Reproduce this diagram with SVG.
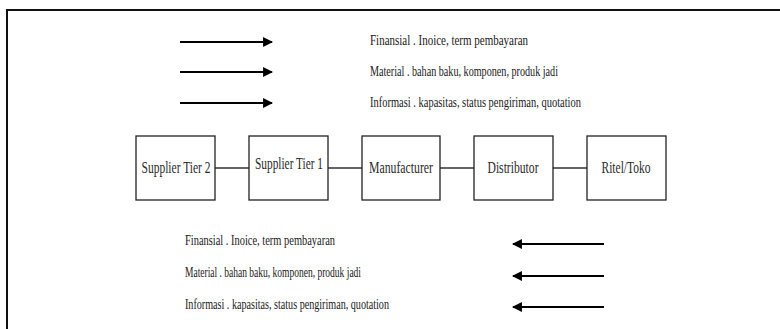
<svg xmlns="http://www.w3.org/2000/svg" width="780" height="329" viewBox="0 0 780 329">
  <style>
    .frame { fill: none; stroke: #111; stroke-width: 2; }
    .box { fill: #fff; stroke: #222; stroke-width: 1.3; }
    .link { stroke: #333; stroke-width: 1.3; fill: none; }
    .arrow { stroke: #000; stroke-width: 1.8; fill: none; }
    .lbl { font-family: "Liberation Serif", "Times New Roman", serif; font-size: 15px; fill: #1a1a1a; }
    .node { font-family: "Liberation Serif", "Times New Roman", serif; font-size: 16px; fill: #2a2a2a; text-anchor: middle; }
  </style>
  <defs>
    <marker id="ah" viewBox="0 0 10 10" refX="9" refY="5" markerWidth="5.5" markerHeight="6" orient="auto" markerUnits="strokeWidth">
      <path d="M0,0 L10,5 L0,10 Z" fill="#000"/>
    </marker>
  </defs>
  <rect width="780" height="329" fill="#fff"/>
  <path class="frame" d="M7,329 L7,10 L780,10"/>

  <g id="connectors">
    <line class="link" x1="215" y1="168" x2="249" y2="168"/>
    <line class="link" x1="328" y1="168" x2="362" y2="168"/>
    <line class="link" x1="440" y1="168" x2="474" y2="168"/>
    <line class="link" x1="553" y1="168" x2="587" y2="168"/>
    <line class="arrow" x1="180" y1="42" x2="272" y2="42" marker-end="url(#ah)"/>
    <line class="arrow" x1="180" y1="72" x2="272" y2="72" marker-end="url(#ah)"/>
    <line class="arrow" x1="180" y1="103" x2="272" y2="103" marker-end="url(#ah)"/>
    <line class="arrow" x1="604" y1="244" x2="513" y2="244" marker-end="url(#ah)"/>
    <line class="arrow" x1="604" y1="276" x2="513" y2="276" marker-end="url(#ah)"/>
    <line class="arrow" x1="604" y1="307" x2="513" y2="307" marker-end="url(#ah)"/>
  </g>

  <g id="top-labels">
    <text class="lbl" x="370" y="45" textLength="158" lengthAdjust="spacingAndGlyphs">Finansial . Inoice, term pembayaran</text>
    <text class="lbl" x="370" y="76" textLength="188" lengthAdjust="spacingAndGlyphs">Material . bahan baku, komponen, produk jadi</text>
    <text class="lbl" x="370" y="107" textLength="211" lengthAdjust="spacingAndGlyphs">Informasi . kapasitas, status pengiriman, quotation</text>
  </g>

  <g id="node-supplier-tier-2">
    <rect class="box" x="136" y="136" width="79" height="64"/>
    <text class="node" x="176" y="173" textLength="69" lengthAdjust="spacingAndGlyphs">Supplier Tier 2</text>
  </g>
  <g id="node-supplier-tier-1">
    <rect class="box" x="249" y="136" width="79" height="64"/>
    <text class="node" x="289" y="169" textLength="68" lengthAdjust="spacingAndGlyphs">Supplier Tier 1</text>
  </g>
  <g id="node-manufacturer">
    <rect class="box" x="362" y="136" width="78" height="64"/>
    <text class="node" x="401" y="173" textLength="64" lengthAdjust="spacingAndGlyphs">Manufacturer</text>
  </g>
  <g id="node-distributor">
    <rect class="box" x="474" y="136" width="79" height="64"/>
    <text class="node" x="513" y="173" textLength="51" lengthAdjust="spacingAndGlyphs">Distributor</text>
  </g>
  <g id="node-ritel-toko">
    <rect class="box" x="587" y="136" width="79" height="64"/>
    <text class="node" x="626" y="173" textLength="49" lengthAdjust="spacingAndGlyphs">Ritel/Toko</text>
  </g>

  <g id="bottom-labels">
    <text class="lbl" x="185" y="245" textLength="150" lengthAdjust="spacingAndGlyphs">Finansial . Inoice, term pembayaran</text>
    <text class="lbl" x="185" y="277" textLength="176" lengthAdjust="spacingAndGlyphs">Material . bahan baku, komponen, produk jadi</text>
    <text class="lbl" x="185" y="309" textLength="204" lengthAdjust="spacingAndGlyphs">Informasi . kapasitas, status pengiriman, quotation</text>
  </g>
</svg>
